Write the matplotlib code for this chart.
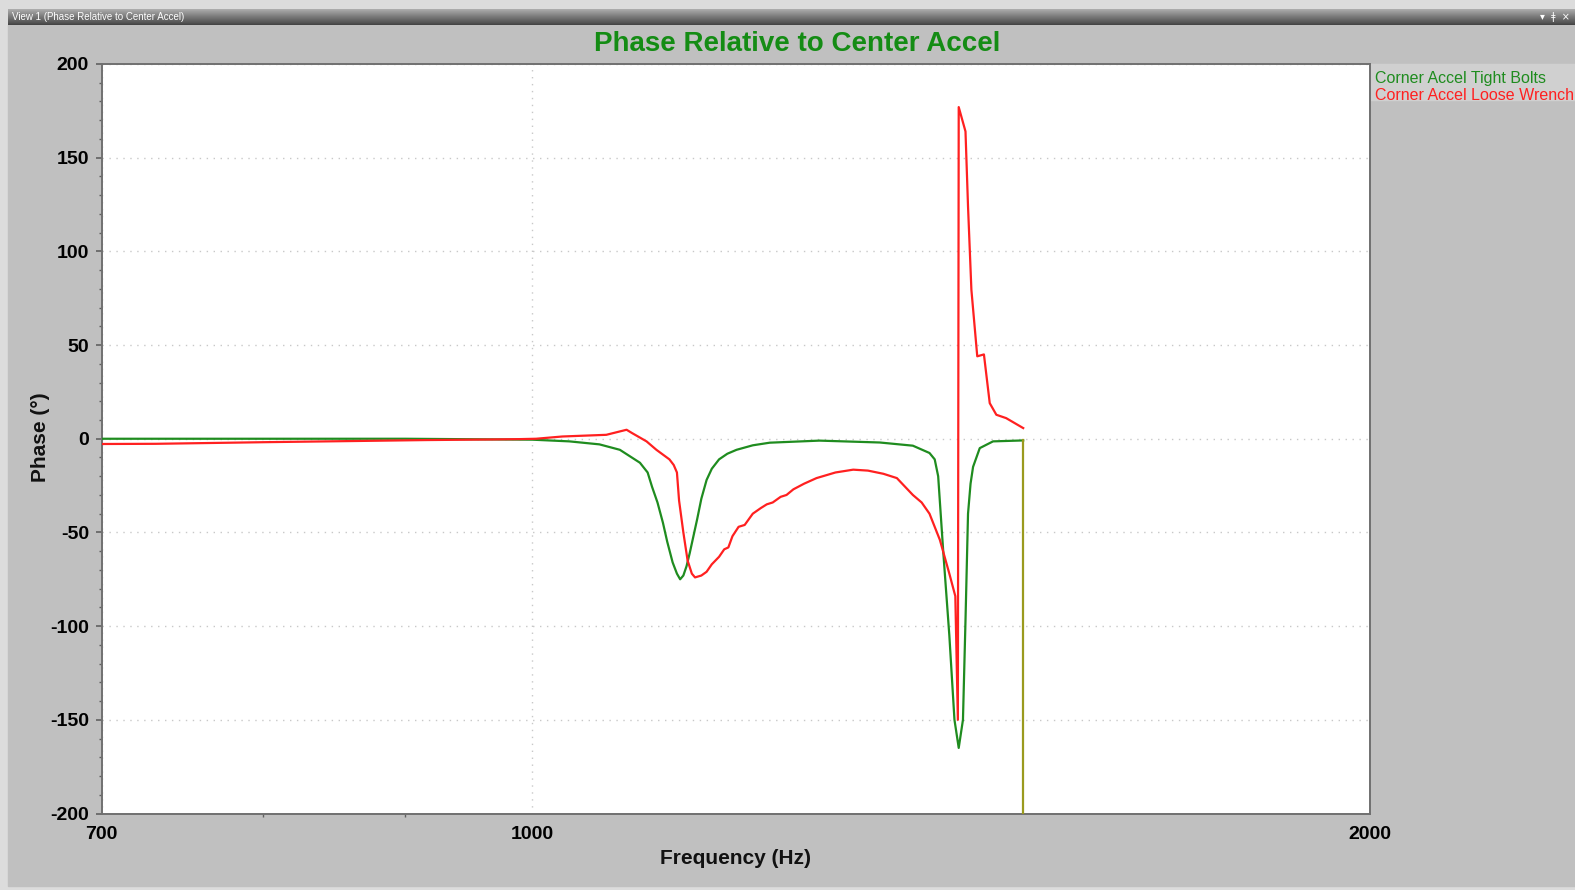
import numpy as np
import matplotlib
matplotlib.use("Agg")
import matplotlib.pyplot as plt
from matplotlib.patches import Rectangle
from matplotlib.ticker import FixedLocator, NullFormatter, MultipleLocator

plt.rcParams['font.family'] = ['Liberation Sans', 'DejaVu Sans']
plt.rcParams['axes.unicode_minus'] = False

# Corner Accel Tight Bolts
green_freq = [700, 800, 900, 1000, 1031, 1057, 1075, 1093, 1100, 1104, 1109, 1114,
              1118, 1123, 1127, 1130, 1133, 1136, 1139, 1146, 1150, 1155, 1160,
              1167, 1175, 1184, 1200, 1217, 1268, 1333, 1370, 1389, 1395, 1399,
              1405, 1412, 1418, 1423, 1428, 1431, 1434, 1437, 1440, 1448, 1464, 1501]
green_val = [0, 0, 0, -0.5, -1.4, -3, -5.9, -12.8, -18, -25.6, -34, -44.8,
             -55, -66, -72, -75, -73, -68, -61, -43, -32, -22, -16,
             -11, -8, -5.9, -3.5, -2.1, -1, -2, -3.7, -7.6, -11, -20,
             -61, -105, -150, -165, -150, -97, -40, -24, -15, -5, -1.4, -0.9]

# Corner Accel Loose Wrench
red_freq = [700, 732, 804, 864, 916, 965, 989, 1003, 1025, 1063, 1081, 1086, 1099,
            1108, 1120, 1124, 1127, 1129, 1133, 1137, 1141, 1144, 1150, 1155, 1160,
            1167, 1172, 1176, 1180, 1186, 1192, 1200, 1208, 1214, 1220, 1228, 1234,
            1241, 1252, 1265, 1285, 1304, 1320, 1337, 1352, 1370, 1380, 1389, 1401,
            1412, 1419, 1422, 1423, 1431, 1434, 1438, 1445, 1453, 1460, 1468, 1480, 1501]
red_val = [-2.8, -2.7, -1.8, -1.2, -0.7, -0.4, -0.2, 0, 1.2, 2.1, 4.8, 3, -1.4,
           -5.9, -11, -14, -18, -33, -50, -65, -72, -74, -73, -71, -67,
           -63, -59, -58, -52, -47, -46, -40, -37, -35, -34, -31, -30,
           -27, -24, -21, -18, -16.5, -17, -18.7, -21, -30, -34, -40, -54,
           -72, -84, -150, 177, 164, 124, 79.5, 44, 45, 19, 12.8, 11, 5.7]

cursor_freq = 1501
y_ticks = [-200, -150, -100, -50, 0, 50, 100, 150, 200]
x_ticks = [700, 1000, 2000]
x_minor = [800, 900]

W, H = 1575, 890
fig = plt.figure(figsize=(W / 100, H / 100), dpi=100)
fig.patch.set_facecolor('#dcdcdc')

def fx(px):
    return px / W

def fy(py):
    return 1 - py / H

# window panel and title bar
fig.patches.append(Rectangle((fx(8), fy(886)), 1, (886 - 25) / H,
                             transform=fig.transFigure, color='#c0c0c0', zorder=-2))
fig.patches.append(Rectangle((fx(1370), fy(100)), 1, (100 - 64) / H,
                             transform=fig.transFigure, color='#d0d0d0', zorder=-1))
bar = fig.add_axes([fx(8), fy(25), 1 - fx(8), 16 / H])
bar.imshow(np.linspace(0, 1, 20).reshape(-1, 1), cmap='Greys', vmin=-1.2, vmax=1.6,
           aspect='auto', extent=[0, 1, 0, 1])
bar.set_axis_off()
fig.text(fx(12), fy(17), "View 1 (Phase Relative to Center Accel)", color='white',
         fontsize=7, va='center', ha='left')
fig.text(fx(1570), fy(17), "▾  ǂ  ×", color='white', fontsize=7, va='center', ha='right',
         family=['DejaVu Sans'])

ax = fig.add_axes([fx(101.5), fy(813.5), (1370 - 101.5) / W, (813.5 - 64) / H])
ax.set_zorder(3)
ax.set_facecolor('white')
ax.set_xscale('log')
ax.set_xlim(700, 2000)
ax.set_ylim(-200, 200)

ax.plot(green_freq, green_val, color='#1f8c1f', lw=1.6, zorder=3)
ax.plot(red_freq, red_val, color='#ff2020', lw=1.6, zorder=4)
ax.plot([cursor_freq, cursor_freq], [-200, green_val[-1]], color='#9a9a1e', lw=1.6, zorder=5)

ax.xaxis.set_major_locator(FixedLocator(x_ticks))
ax.xaxis.set_minor_locator(FixedLocator(x_minor))
ax.xaxis.set_minor_formatter(NullFormatter())
ax.set_xticklabels([str(t) for t in x_ticks])
ax.yaxis.set_major_locator(FixedLocator(y_ticks))
ax.yaxis.set_minor_locator(MultipleLocator(10))

ax.tick_params(axis='both', which='major', labelsize=14, length=4, width=1.2,
               color='#606060', direction='out')
ax.tick_params(axis='y', which='major', pad=5)
ax.tick_params(axis='x', which='major', pad=9, length=0)
ax.tick_params(axis='both', which='minor', length=2.5, width=1, color='#606060')
for lab in ax.get_xticklabels() + ax.get_yticklabels():
    lab.set_fontweight('bold')

ax.grid(True, which='major', color='#c8c8c8', linestyle=(0, (1, 4)), lw=1)
for s in ax.spines.values():
    s.set_color('#707070')
    s.set_linewidth(1.4)

fig.text(fx(797), fy(44), "Phase Relative to Center Accel", color='#148c14',
         fontsize=20, fontweight='bold', ha='center', va='center')
fig.text(fx(736), fy(858), "Frequency (Hz)", fontsize=15, fontweight='bold',
         ha='center', va='center', color='#111111')
fig.text(fx(40), fy(437), "Phase (°)", fontsize=15, fontweight='bold', rotation=90,
         ha='center', va='center', color='#111111')

fig.text(fx(1375), fy(79), "Corner Accel Tight Bolts", color='#1f8c1f', fontsize=11.5,
         ha='left', va='center')
fig.text(fx(1375), fy(96), "Corner Accel Loose Wrench", color='#ff2020', fontsize=11.5,
         ha='left', va='center')

fig.savefig("out.png", dpi=100, facecolor=fig.get_facecolor())
